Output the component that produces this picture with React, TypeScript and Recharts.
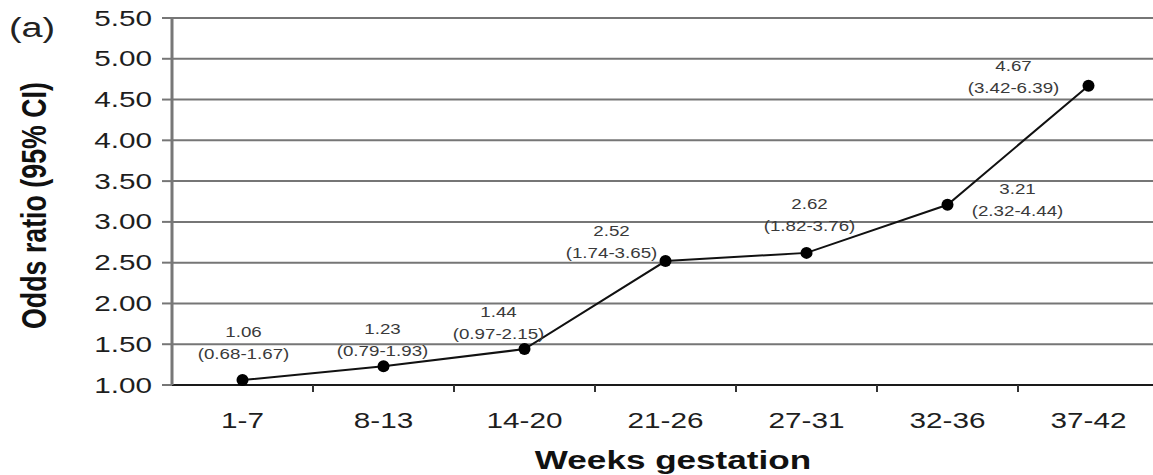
import React from "react";
import {
  LineChart,
  Line,
  XAxis,
  YAxis,
  CartesianGrid,
  LabelList,
  Label,
} from "recharts";

// weeks of gestation on the x axis
const weeks = ["1-7", "8-13", "14-20", "21-26", "27-31", "32-36", "37-42"];
// odds ratio and its 95% CI bounds
const oddsRatio = [1.06, 1.23, 1.44, 2.52, 2.62, 3.21, 4.67];
const ciLower = [0.68, 0.79, 0.97, 1.74, 1.82, 2.32, 3.42];
const ciUpper = [1.67, 1.93, 2.15, 3.65, 3.76, 4.44, 6.39];
const yTicks = [1.0, 1.5, 2.0, 2.5, 3.0, 3.5, 4.0, 4.5, 5.0, 5.5];

// where each two-line label sits relative to its point (layout only)
const labelOffsets = [
  [1, -48],
  [-1, -37],
  [-26, -37],
  [-54, -30],
  [3, -49],
  [70, -16],
  [-75, -20],
];

const data = weeks.map((w, i) => ({
  week: w,
  or: oddsRatio[i],
  lo: ciLower[i],
  hi: ciUpper[i],
}));

const FONT = "'Liberation Sans', Arial, sans-serif";
const STRETCH = 1.35;
const HALF_BAND = 70.5;

function XTick(props: any) {
  const { x, y, payload, index } = props;
  return (
    <g>
      {index > 0 && (
        <line
          x1={x - HALF_BAND}
          x2={x - HALF_BAND}
          y1={y}
          y2={y + 7}
          stroke="#333"
          strokeWidth={2}
        />
      )}
      <text
        transform={`translate(${x} ${y + 35}) scale(${STRETCH} 1)`}
        textAnchor="middle"
        dominantBaseline="central"
        fontFamily={FONT}
        fontSize={22}
        fill="#1e1e1e"
      >
        {payload.value}
      </text>
    </g>
  );
}

function YTick(props: any) {
  const { x, y, payload } = props;
  return (
    <text
      transform={`translate(${x} ${y}) scale(${STRETCH} 1)`}
      textAnchor="end"
      dominantBaseline="central"
      fontFamily={FONT}
      fontSize={22}
      fill="#1e1e1e"
    >
      {Number(payload.value).toFixed(2)}
    </text>
  );
}

function PointLabel(props: any) {
  const { x, y, index } = props;
  const [dx, dy] = labelOffsets[index];
  const cx = x + dx;
  const cy = y + dy;
  const style = {
    fontFamily: FONT,
    fontSize: 15,
    fill: "#3a3a3a",
  };
  return (
    <g>
      <text
        transform={`translate(${cx} ${cy}) scale(1.25 1)`}
        textAnchor="middle"
        dominantBaseline="central"
        style={style}
      >
        {oddsRatio[index].toFixed(2)}
      </text>
      <text
        transform={`translate(${cx} ${cy + 22}) scale(1.25 1)`}
        textAnchor="middle"
        dominantBaseline="central"
        style={style}
      >
        {`(${ciLower[index].toFixed(2)}-${ciUpper[index].toFixed(2)})`}
      </text>
    </g>
  );
}

function YTitle(props: any) {
  const vb = props.viewBox;
  const cy = vb.y + vb.height / 2 + 4;
  return (
    <text
      transform={`translate(34 ${cy}) rotate(-90) scale(1.03 1.35)`}
      textAnchor="middle"
      dominantBaseline="central"
      fontFamily={FONT}
      fontWeight="bold"
      fontSize={26}
      fill="#111"
    >
      Odds ratio (95% CI)
    </text>
  );
}

function XTitle(props: any) {
  const vb = props.viewBox;
  return (
    <text
      transform={`translate(673 ${vb.y + 75}) scale(${STRETCH} 1)`}
      textAnchor="middle"
      dominantBaseline="central"
      fontFamily={FONT}
      fontWeight="bold"
      fontSize={26}
      fill="#111"
    >
      Weeks gestation
    </text>
  );
}

export default function App() {
  return (
    <div
      style={{
        position: "absolute",
        left: 0,
        top: 0,
        width: 1153,
        height: 475,
        background: "#fff",
        overflow: "hidden",
      }}
    >
      <svg
        width={70}
        height={50}
        style={{ position: "absolute", left: 0, top: 0 }}
      >
        <text
          transform="translate(9 28) scale(1.4 1)"
          dominantBaseline="central"
          fontFamily={FONT}
          fontSize={27}
          fill="#222"
        >
          (a)
        </text>
      </svg>
      <LineChart
        width={1153}
        height={475}
        data={data}
        margin={{ top: 18, right: -6, bottom: 0, left: 0 }}
      >
        <CartesianGrid vertical={false} stroke="#767676" strokeWidth={2} />
        <XAxis
          dataKey="week"
          height={90}
          padding={{ left: HALF_BAND, right: HALF_BAND }}
          axisLine={{ stroke: "#1a1a1a", strokeWidth: 2 }}
          tickLine={false}
          tickSize={0}
          tickMargin={0}
          tick={<XTick />}
          interval={0}
        >
          <Label content={<XTitle />} />
        </XAxis>
        <YAxis
          width={172}
          domain={[1, 5.5]}
          ticks={yTicks}
          type="number"
          axisLine={{ stroke: "#777", strokeWidth: 3 }}
          tickLine={{ stroke: "#767676", strokeWidth: 2 }}
          tickSize={10}
          tickMargin={10}
          tick={<YTick />}
          interval={0}
        >
          <Label content={<YTitle />} />
        </YAxis>
        <Line
          dataKey="or"
          stroke="#111"
          strokeWidth={2}
          dot={{ r: 6, fill: "#000", stroke: "none" }}
          activeDot={false}
          isAnimationActive={false}
        >
          <LabelList dataKey="or" content={<PointLabel />} />
        </Line>
      </LineChart>
    </div>
  );
}
